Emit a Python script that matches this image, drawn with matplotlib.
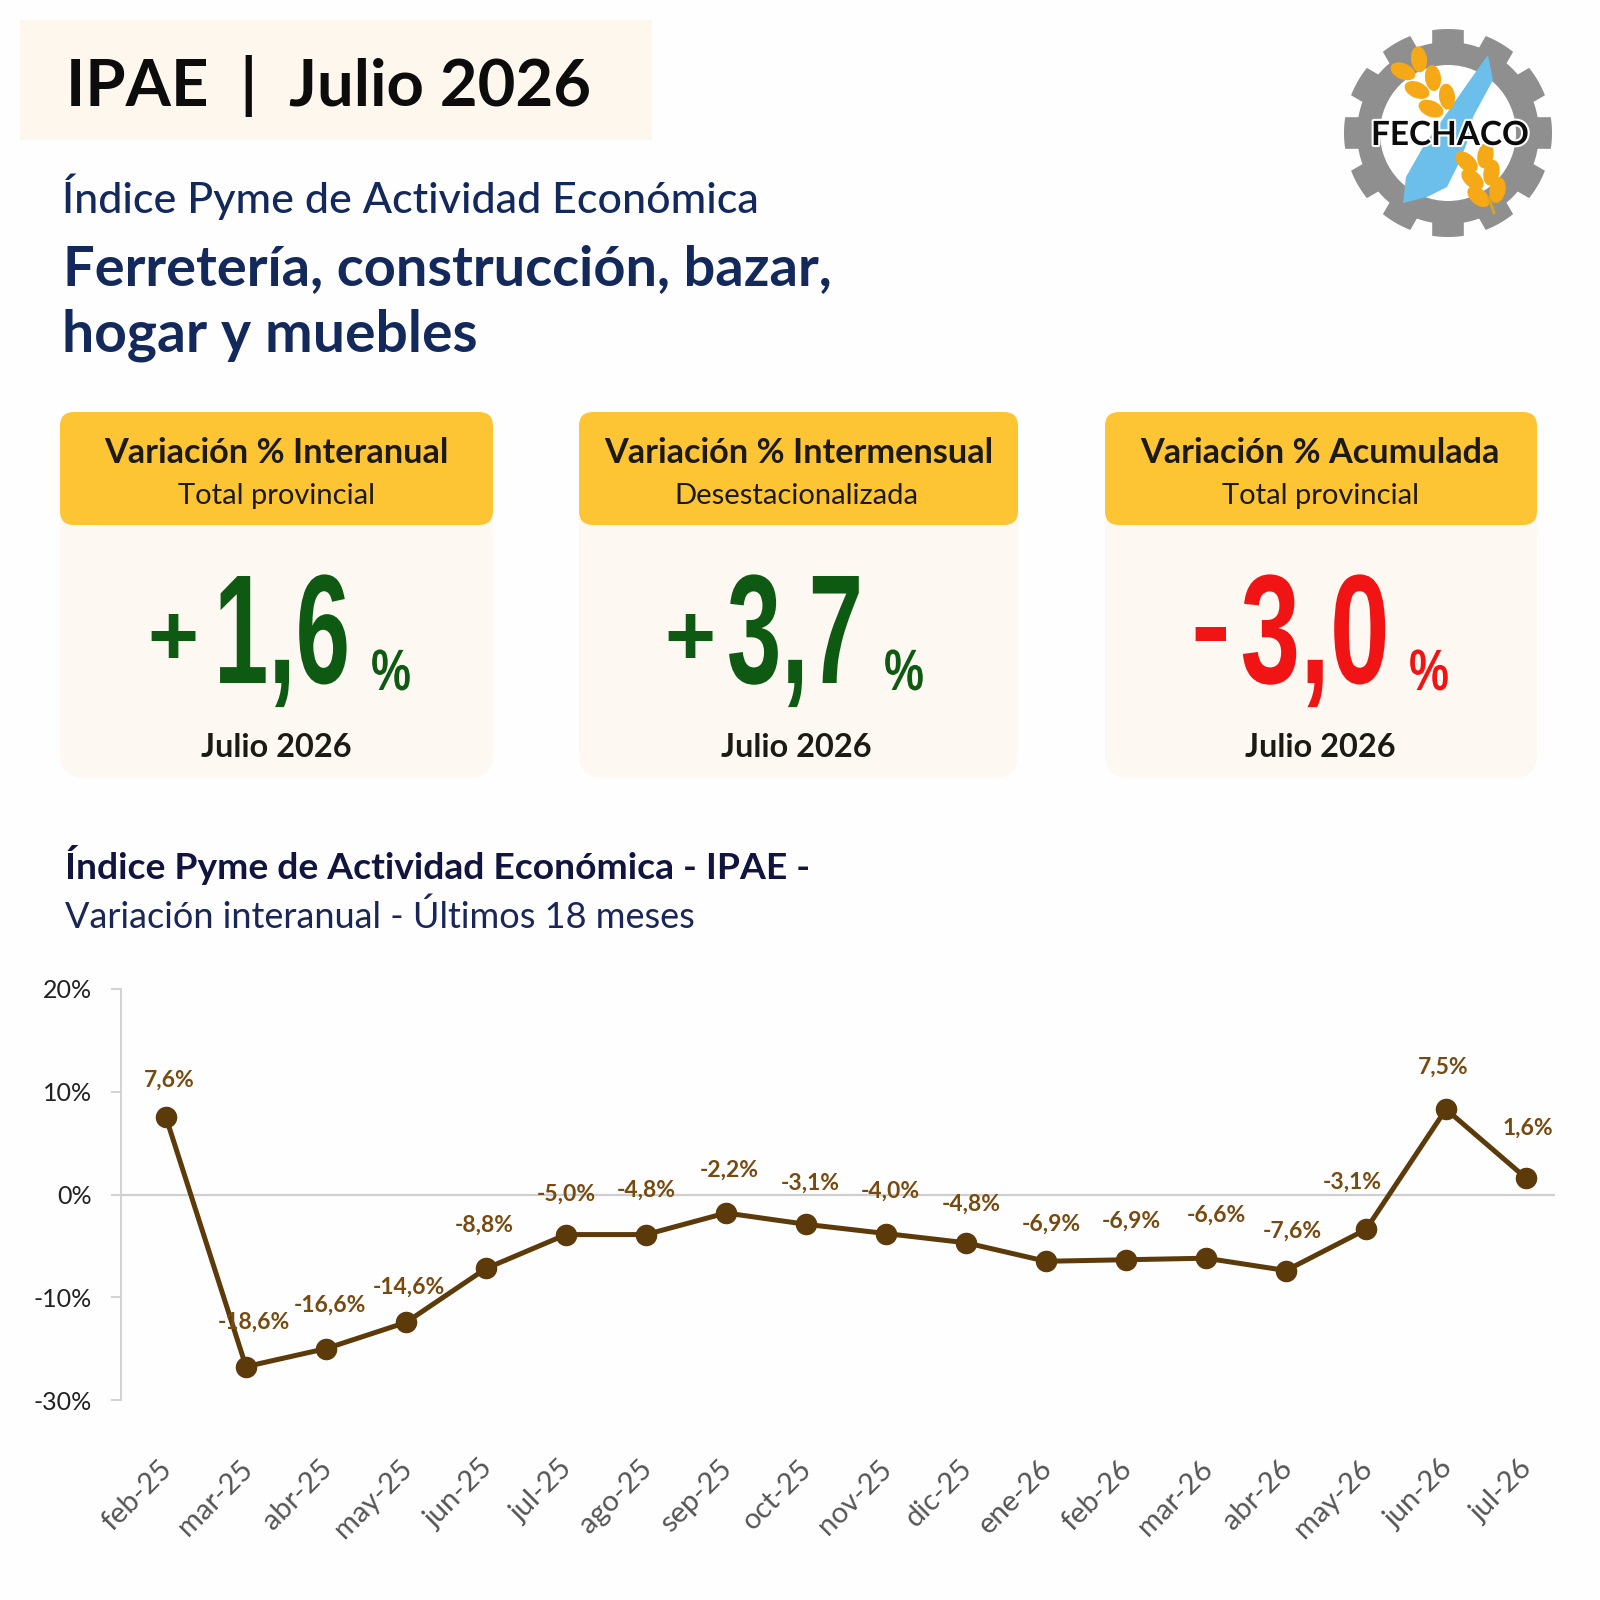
import matplotlib
matplotlib.use("Agg")
import matplotlib.pyplot as plt
import matplotlib.patheffects as pe
import numpy as np
from matplotlib.patches import Circle, Ellipse, FancyBboxPatch, Polygon, Rectangle
from matplotlib.transforms import Affine2D, ScaledTranslation

plt.rcParams["font.family"] = ["Lato", "DejaVu Sans"]

# Data
months = ["feb-25", "mar-25", "abr-25", "may-25", "jun-25", "jul-25", "ago-25", "sep-25", "oct-25",
          "nov-25", "dic-25", "ene-26", "feb-26", "mar-26", "abr-26", "may-26", "jun-26", "jul-26"]
# height of each point read against the picture's evenly spaced ticks
plotted = [7.5, -16.75, -15.0, -12.45, -7.2, -3.9, -3.9, -1.8, -2.9,
           -3.8, -4.7, -6.5, -6.35, -6.2, -7.4, -3.4, 8.3, 1.6]
point_labels = ["7,6%", "-18,6%", "-16,6%", "-14,6%", "-8,8%", "-5,0%", "-4,8%", "-2,2%", "-3,1%",
                "-4,0%", "-4,8%", "-6,9%", "-6,9%", "-6,6%", "-7,6%", "-3,1%", "7,5%", "1,6%"]
y_ticks = [20, 10, 0, -10, -20]
y_tick_labels = ["20%", "10%", "0%", "-10%", "-30%"]

card_titles = ["Variación % Interanual", "Variación % Intermensual", "Variación % Acumulada"]
card_subtitles = ["Total provincial", "Desestacionalizada", "Total provincial"]
card_signs = ["+", "+", "-"]
card_values = ["1,6", "3,7", "3,0"]
card_period = "Julio 2026"

# Colours
NAVY = "#13295c"
INK = "#1b1a14"
GREEN = "#0f5a12"
RED = "#f01414"
BROWN = "#5c3a0a"
LABEL_BROWN = "#774a10"


class Squeeze(pe.AbstractPathEffect):
    # narrows a text around x0, there is no condensed font installed
    def __init__(self, sx, x0):
        super().__init__()
        self.sq = Affine2D().translate(-x0, 0).scale(sx, 1).translate(x0, 0)

    def draw_path(self, renderer, gc, tpath, affine, rgbFace=None):
        renderer.draw_path(gc, tpath, affine + self.sq, rgbFace)


fig = plt.figure(figsize=(16, 16), dpi=100, facecolor="#fefefe")

# page layer in pixels, y going down
page = fig.add_axes([0, 0, 1, 1])
page.set_xlim(0, 1600)
page.set_ylim(1600, 0)
page.axis("off")


def put(x, y, s, size, color=INK, weight="normal", ha="left", sx=None, family=None):
    t = page.text(x, y, s, fontsize=size, color=color, fontweight=weight, ha=ha, va="baseline")
    if family:
        t.set_family(family)
    if sx:
        t.set_path_effects([Squeeze(sx, x)])
    return t


# Header
page.add_patch(Rectangle((20, 20), 632, 120, fc="#fdf7ee", ec="none"))
put(66, 106, "IPAE  |  Julio 2026", 47, "#0c0c0c", "bold")
put(62, 213, "Índice Pyme de Actividad Económica", 31, NAVY, 500)
put(63, 285, "Ferretería, construcción, bazar,", 40.3, NAVY, "bold")
put(62, 351, "hogar y muebles", 41, NAVY, "bold")

# Cards
card_left = [60, 579, 1105]
card_right = [493, 1018, 1537]
title_x = [276, 799, 1320]
sub_x = [276, 796, 1320]
sign_x = [173, 690, 1210]
value_x = [282, 795, 1315]
value_squeeze = [0.63, 0.63, 0.69]
pct_x = [391, 904, 1429]
for i in range(3):
    x0, x1 = card_left[i], card_right[i]
    col = RED if card_signs[i] == "-" else GREEN
    page.add_patch(FancyBboxPatch((x0 + 22, 500), x1 - x0 - 44, 256, boxstyle="round,pad=22,rounding_size=24",
                                  fc="#fdf9f2", ec="none"))
    page.add_patch(FancyBboxPatch((x0 + 12, 424), x1 - x0 - 24, 89, boxstyle="round,pad=12,rounding_size=14",
                                  fc="#fdc433", ec="none"))
    put(title_x[i], 463, card_titles[i], 24.7, INK, "bold", "center")
    put(sub_x[i], 504, card_subtitles[i], 21, INK, "normal", "center")
    put(sub_x[i], 757, card_period, 23.4, INK, "bold", "center")
    sign_size = 86 if card_signs[i] == "-" else 63
    put(sign_x[i], 665, card_signs[i], sign_size, col, "bold", "center", family="Liberation Sans")
    put(value_x[i], 683, card_values[i], 112, col, "bold", "center", sx=value_squeeze[i], family="Liberation Sans")
    put(pct_x[i], 690, "%", 42, col, "bold", "center", sx=0.77, family="Liberation Sans")

# Logo
cx, cy = 1448, 133
ang = np.linspace(0, 2 * np.pi, 12 * 24, endpoint=False)
rad = np.where(((ang * 12 / (2 * np.pi) + 0.3) % 1) < 0.6, 104, 91)
page.add_patch(Polygon(np.c_[cx + rad * np.cos(ang), cy + rad * np.sin(ang)], fc="#8f8f8f", ec="none"))
page.add_patch(Circle((cx, cy), 68, fc="white", ec="none"))
feather = [(1488, 55), (1493, 80), (1473, 117), (1467, 143), (1457, 167), (1447, 187), (1427, 197),
           (1403, 203), (1406, 177), (1423, 147), (1447, 113), (1470, 80)]
page.add_patch(Polygon(feather, fc="#6cbfea", ec="none"))
for start, end, n in [((1404, 56), (1446, 112), 3), ((1473, 150), (1491, 202), 3)]:
    a = np.degrees(np.arctan2(end[1] - start[1], end[0] - start[0]))
    for k in range(n):
        f = (k + 0.5) / n
        px = start[0] + (end[0] - start[0]) * f
        py = start[1] + (end[1] - start[1]) * f
        for side in [-1, 1]:
            page.add_patch(Ellipse((px + side * 10 * np.sin(np.radians(a)), py - side * 10 * np.cos(np.radians(a))),
                                   26, 16, angle=a + side * 30, fc="#f5a916", ec="none"))
page.plot([1489, 1494], [198, 213], color="#d9a520", lw=2)
put(1450, 145, "FECHACO", 24, "#0c0c0c", "bold", "center").set_path_effects(
    [pe.withStroke(linewidth=3, foreground="white")])

# Chart heading
put(65, 879, "Índice Pyme de Actividad Económica - IPAE -", 26.8, "#10143f", "bold")
put(65, 928, "Variación interanual - Últimos 18 meses", 26, "#1a2558")

# Chart
ax = fig.add_axes([121 / 1600, 1 - 1400 / 1600, (1555 - 121) / 1600, (1400 - 989) / 1600])
ax.patch.set_alpha(0)
x = np.arange(len(months))
ax.set_xlim(-0.5625, 17.3625)
ax.set_ylim(-20, 20)
ax.axhline(0, color="#cfcfcf", lw=1.6, zorder=1)
ax.plot(x, plotted, "-o", color=BROWN, lw=3.6, ms=14.5, zorder=3, clip_on=False)

label_dx = [3, 8, 4, 3, -2, 0, 0, 3, 4, 4, 5, 5, 5, 10, 6, -14, -3, 2]
label_dy = [37, 44, 43, 35, 43, 40, 44, 43, 41, 42, 39, 37, 39, 43, 39, 47, 42, 50]
for i, txt in enumerate(point_labels):
    ax.annotate(txt, (x[i], plotted[i]), xytext=(label_dx[i], label_dy[i]), textcoords="offset pixels",
                ha="center", va="center", fontsize=16.5, color=LABEL_BROWN, fontweight="bold", zorder=4)

for side in ["top", "right", "bottom"]:
    ax.spines[side].set_visible(False)
ax.spines["left"].set_color("#cfcfcf")
ax.spines["left"].set_linewidth(1.3)
ax.set_yticks(y_ticks)
ax.set_yticklabels(y_tick_labels, fontsize=18, color="#222222")
ax.tick_params(axis="y", length=7, width=1.3, color="#cfcfcf", pad=14)
ax.set_xticks(x)
ax.set_xticklabels(months, fontsize=21, color="#555555", rotation=45, ha="right", va="top", rotation_mode="anchor")
ax.tick_params(axis="x", length=0, pad=40)
# month labels sit a little left of their points
shift = ScaledTranslation(-7 / 100, 0, fig.dpi_scale_trans)
for lab in ax.get_xticklabels():
    lab.set_transform(lab.get_transform() + shift)

fig.savefig("out.png", dpi=100, facecolor=fig.get_facecolor())
